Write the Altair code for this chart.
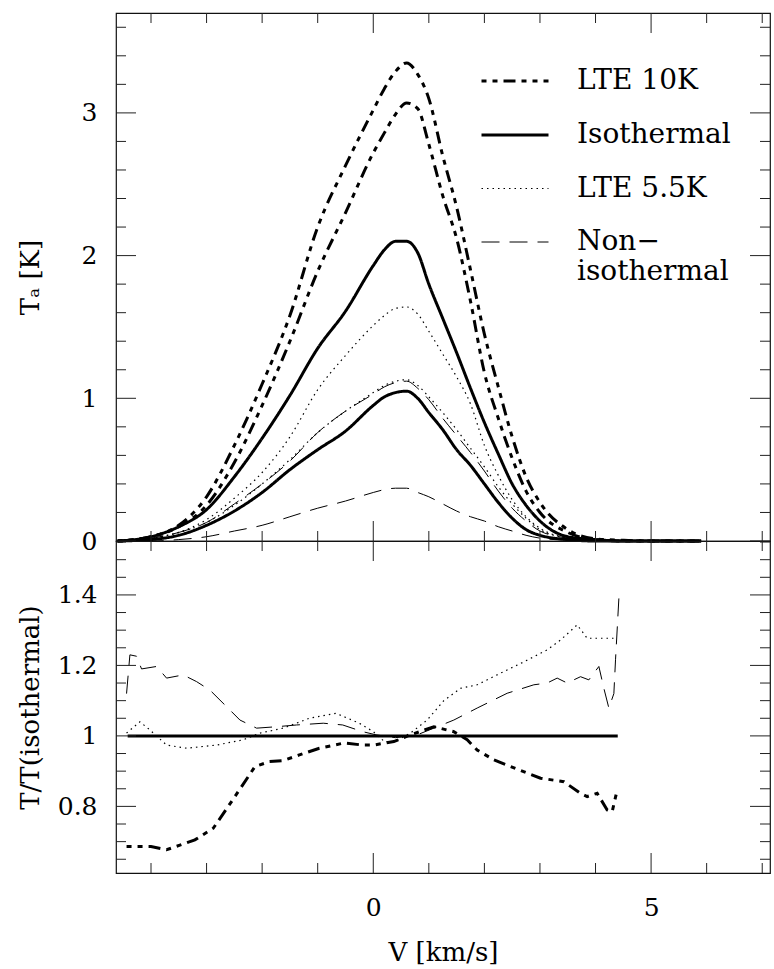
import altair as alt
import pandas as pd

# ---------------- data ----------------
v_top = [-4.6, -4.0, -3.5, -3.0, -2.5, -2.0, -1.5, -1.0, -0.5, 0.0, 0.2, 0.4, 0.6, 0.8,
         1.0, 1.25, 1.5, 1.75, 2.0, 2.25, 2.5, 2.75, 3.0, 3.5, 4.0, 4.5, 5.0, 5.9]

lte10_a = [0.0, 0.03, 0.11, 0.31, 0.67, 1.10, 1.58, 2.20, 2.63, 3.02, 3.17, 3.29, 3.35, 3.27,
           3.10, 2.70, 2.34, 1.90, 1.45, 1.08, 0.73, 0.45, 0.27, 0.08, 0.015, 0.005, 0.0, 0.0]
lte10_b = [0.0, 0.03, 0.10, 0.25, 0.55, 0.95, 1.40, 1.89, 2.30, 2.72, 2.86, 2.99, 3.07, 3.03,
           2.78, 2.42, 2.12, 1.68, 1.18, 0.86, 0.58, 0.35, 0.20, 0.06, 0.01, 0.0, 0.0, 0.0]
iso_a = [0.0, 0.03, 0.10, 0.22, 0.45, 0.72, 1.02, 1.35, 1.61, 1.93, 2.04, 2.10, 2.10, 2.02,
         1.80, 1.56, 1.32, 1.07, 0.83, 0.61, 0.40, 0.25, 0.14, 0.03, 0.01, 0.0, 0.0, 0.0]
iso_b = [0.0, 0.01, 0.04, 0.11, 0.21, 0.34, 0.50, 0.64, 0.77, 0.95, 1.01, 1.04, 1.05, 1.00,
         0.90, 0.78, 0.64, 0.53, 0.40, 0.27, 0.16, 0.08, 0.04, 0.01, 0.0, 0.0, 0.0, 0.0]
lte55_a = [0.0, 0.02, 0.06, 0.15, 0.30, 0.48, 0.73, 1.06, 1.30, 1.51, 1.58, 1.63, 1.64, 1.59,
           1.47, 1.31, 1.15, 0.96, 0.67, 0.46, 0.29, 0.17, 0.09, 0.02, 0.0, 0.0, 0.0, 0.0]
lte55_b = [0.0, 0.02, 0.06, 0.13, 0.25, 0.40, 0.57, 0.76, 0.91, 1.04, 1.09, 1.12, 1.13, 1.09,
           1.01, 0.90, 0.78, 0.65, 0.52, 0.38, 0.26, 0.16, 0.08, 0.02, 0.0, 0.0, 0.0, 0.0]
noniso_a = [0.0, 0.02, 0.06, 0.13, 0.26, 0.40, 0.56, 0.76, 0.91, 1.03, 1.08, 1.11, 1.12, 1.07,
            0.99, 0.86, 0.74, 0.62, 0.49, 0.35, 0.23, 0.14, 0.07, 0.02, 0.0, 0.0, 0.0, 0.0]
noniso_b = [0.0, 0.0, 0.01, 0.03, 0.07, 0.11, 0.17, 0.23, 0.28, 0.34, 0.36, 0.37, 0.37, 0.34,
            0.31, 0.26, 0.21, 0.17, 0.14, 0.10, 0.07, 0.04, 0.02, 0.005, 0.0, 0.0, 0.0, 0.0]

# ratio panel
v_r10 = [-4.44, -4.0, -3.72, -3.48, -3.21, -2.88, -2.61, -2.37, -2.13, -1.87, -1.62, -1.33,
         -0.97, -0.52, -0.19, 0.01, 0.37, 0.67, 1.09, 1.45, 1.69, 1.87, 2.17, 2.62, 3.01,
         3.43, 3.73, 3.85, 4.03, 4.21, 4.30, 4.39]
r_lte10 = [0.686, 0.686, 0.677, 0.69, 0.705, 0.738, 0.80, 0.856, 0.913, 0.927, 0.93, 0.946,
           0.965, 0.98, 0.974, 0.974, 0.984, 1.003, 1.026, 1.012, 0.989, 0.96, 0.932, 0.904,
           0.88, 0.87, 0.837, 0.828, 0.837, 0.79, 0.785, 0.847]
v_r55 = [-4.44, -4.2, -4.02, -3.72, -3.36, -2.82, -2.34, -2.04, -1.62, -1.15, -0.67, -0.25,
         0.0, 0.2, 0.4, 0.67, 0.97, 1.27, 1.57, 1.87, 2.29, 2.71, 3.13, 3.37, 3.67, 3.85, 4.39]
r_lte55 = [1.008, 1.04, 1.017, 0.974, 0.965, 0.974, 0.989, 1.008, 1.022, 1.05, 1.064, 1.036,
           1.012, 0.984, 0.984, 1.008, 1.045, 1.10, 1.135, 1.145, 1.178, 1.21, 1.244, 1.272,
           1.315, 1.277, 1.277]
v_rni = [-4.44, -4.38, -4.26, -4.17, -3.90, -3.72, -3.42, -3.18, -2.94, -2.64, -2.40, -2.10,
         -1.74, -1.38, -0.90, -0.55, -0.19, 0.05, 0.4, 0.79, 1.09, 1.45, 1.87, 2.41, 2.89,
         3.13, 3.31, 3.49, 3.73, 3.88, 4.06, 4.15, 4.24, 4.33, 4.36, 4.42]
r_noniso = [1.12, 1.23, 1.226, 1.19, 1.197, 1.164, 1.173, 1.154, 1.13, 1.083, 1.045, 1.022,
            1.026, 1.031, 1.036, 1.031, 1.012, 1.003, 0.995, 1.003, 1.022, 1.045, 1.079,
            1.121, 1.145, 1.15, 1.164, 1.15, 1.168, 1.159, 1.197, 1.135, 1.079, 1.12, 1.216, 1.39]
v_riso = [-4.42, 4.40]
r_iso = [1.0, 1.0]

# axis tick values
x_major = [0, 5]
x_minor = [-4, -3, -2, -1, 1, 2, 3, 4, 6, 7]
yt_major = [0, 1, 2, 3]
yt_minor = [0.2, 0.4, 0.6, 0.8, 1.2, 1.4, 1.6, 1.8, 2.2, 2.4, 2.6, 2.8, 3.2, 3.4, 3.6]
yb_major = [0.8, 1.0, 1.2, 1.4]
yb_minor = [0.65, 0.7, 0.75, 0.85, 0.9, 0.95, 1.05, 1.1, 1.15, 1.25, 1.3, 1.35, 1.45, 1.5, 1.55]

models = ["LTE 10K", "Isothermal", "LTE 5.5K", "Non-isothermal"]

# ---------------- styling ----------------
W, H_TOP, H_BOT = 654, 528, 332
X_DOM = [-4.63, 7.14]
YT_DOM = [0.0, 3.70]
YB_DOM = [0.611, 1.553]
FONT = "DejaVu Serif"
DASHES = [[5, 6, 5, 6, 12, 6], [1, 0], [1.5, 4], [18, 10]]
WIDTHS = [3, 3, 1.2, 1]
MAJ, MIN = 20, 10
TICK_COLOR = "#222222"

xs = alt.Scale(domain=X_DOM, nice=False, zero=False)
yts = alt.Scale(domain=YT_DOM, nice=False, zero=False)
ybs = alt.Scale(domain=YB_DOM, nice=False, zero=False)

dash_scale = alt.Scale(type="ordinal", domain=models, range=DASHES)
width_scale = alt.Scale(type="ordinal", domain=models, range=WIDTHS)

axis_style = dict(
    format="~g", ticks=False, tickSize=0, domain=False, grid=False,
    labelFont=FONT, labelFontSize=25, labelColor="black",
    titleFont=FONT, titleFontSize=26, titleFontWeight="normal", titleColor="black",
)
yt_axis = alt.Axis(
    values=yt_major, labelPadding=19, title="T\u2090 [K]", titleX=-86, titleY=H_TOP / 2,
    titleAngle=270, titleAlign="center", titleBaseline="middle", **axis_style)
yb_axis = alt.Axis(
    values=yb_major, labelPadding=19, title="T/T(isothermal)", titleX=-86, titleY=H_BOT / 2,
    titleAngle=270, titleAlign="center", titleBaseline="middle", **axis_style)
xb_axis = alt.Axis(
    values=x_major, labelPadding=22, title="V [km/s]", titleY=79, titleBaseline="middle",
    **axis_style)

legend = alt.Legend(
    title=None, orient="none", legendX=364, legendY=33,
    symbolType="stroke", symbolSize=4489, symbolStrokeColor="black",
    labelFont=FONT, labelFontSize=28, labelColor="black", labelOffset=27,
    labelLimit=400, rowPadding=5,
    labelExpr="datum.label == 'Non-isothermal' ? ['Non\u2212', 'isothermal'] : datum.label",
)

# top panel data
top_rows = []
for case, model, vals in [
    ("a", "LTE 10K", lte10_a), ("b", "LTE 10K", lte10_b),
    ("a", "Isothermal", iso_a), ("b", "Isothermal", iso_b),
    ("a", "LTE 5.5K", lte55_a), ("b", "LTE 5.5K", lte55_b),
    ("a", "Non-isothermal", noniso_a), ("b", "Non-isothermal", noniso_b),
]:
    for v, t in zip(v_top, vals):
        top_rows.append({"v": v, "T": t, "model": model, "curve": model + case})
top_df = pd.DataFrame(top_rows)

bot_rows = []
for model, vv, rr in [
    ("LTE 10K", v_r10, r_lte10), ("Isothermal", v_riso, r_iso),
    ("LTE 5.5K", v_r55, r_lte55), ("Non-isothermal", v_rni, r_noniso),
]:
    for v, r in zip(vv, rr):
        bot_rows.append({"v": v, "R": r, "model": model, "curve": model})
bot_df = pd.DataFrame(bot_rows)


def ticks(vals, side, length, yscale, yaxis, xaxis, h):
    df = pd.DataFrame({"t": vals})
    base = alt.Chart(df).mark_rule(color=TICK_COLOR, strokeWidth=1)
    if side == "top":
        return base.encode(x=alt.X("t:Q", scale=xs, axis=xaxis), y=alt.value(0), y2=alt.value(length))
    if side == "bottom":
        return base.encode(x=alt.X("t:Q", scale=xs, axis=xaxis), y=alt.value(h), y2=alt.value(h - length))
    if side == "left":
        return base.encode(y=alt.Y("t:Q", scale=yscale, axis=yaxis), x=alt.value(0), x2=alt.value(length))
    return base.encode(y=alt.Y("t:Q", scale=yscale, axis=yaxis), x=alt.value(W), x2=alt.value(W - length))


def tick_layers(ymaj, ymin, yscale, yaxis, xaxis, h):
    return [
        ticks(x_major, "top", MAJ, yscale, yaxis, xaxis, h),
        ticks(x_minor, "top", MIN, yscale, yaxis, xaxis, h),
        ticks(x_major, "bottom", MAJ, yscale, yaxis, xaxis, h),
        ticks(x_minor, "bottom", MIN, yscale, yaxis, xaxis, h),
        ticks(ymaj, "left", MAJ, yscale, yaxis, xaxis, h),
        ticks(ymin, "left", MIN, yscale, yaxis, xaxis, h),
        ticks(ymaj, "right", MAJ, yscale, yaxis, xaxis, h),
        ticks(ymin, "right", MIN, yscale, yaxis, xaxis, h),
    ]


top_lines = alt.Chart(top_df).mark_line(color="black", interpolate="monotone", strokeCap="butt").encode(
    x=alt.X("v:Q", scale=xs, axis=None),
    y=alt.Y("T:Q", scale=yts, axis=yt_axis),
    strokeDash=alt.StrokeDash("model:N", scale=dash_scale, legend=legend),
    strokeWidth=alt.StrokeWidth("model:N", scale=width_scale, legend=legend),
    detail="curve:N",
)

bot_lines = alt.Chart(bot_df).mark_line(color="black", interpolate="linear", strokeCap="butt").encode(
    x=alt.X("v:Q", scale=xs, axis=xb_axis),
    y=alt.Y("R:Q", scale=ybs, axis=yb_axis),
    strokeDash=alt.StrokeDash("model:N", scale=dash_scale, legend=None),
    strokeWidth=alt.StrokeWidth("model:N", scale=width_scale, legend=None),
    detail="curve:N",
)

top = alt.layer(top_lines, *tick_layers(yt_major, yt_minor, yts, yt_axis, None, H_TOP)).properties(
    width=W, height=H_TOP)
bot = alt.layer(bot_lines, *tick_layers(yb_major, yb_minor, ybs, yb_axis, xb_axis, H_BOT)).properties(
    width=W, height=H_BOT)

chart = alt.vconcat(top, bot, spacing=0, bounds="flush").properties(
    padding={"left": 16, "top": 11, "right": 1, "bottom": 0},
    background="white",
).configure_view(
    stroke="#111111", strokeWidth=1.2
)

chart.save("out.html", embed_options={"renderer": "svg", "actions": False})
